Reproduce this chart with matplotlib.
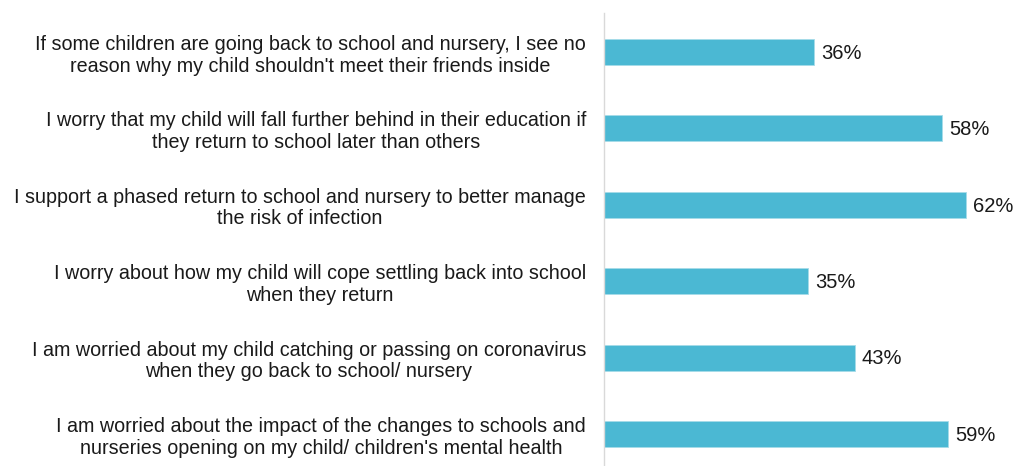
import matplotlib
matplotlib.use("Agg")
import matplotlib.pyplot as plt

plt.rcParams['font.family'] = ['Liberation Sans', 'DejaVu Sans']

# statements, top to bottom
statements = [
    "If some children are going back to school and nursery, I see no\nreason why my child shouldn't meet their friends inside",
    "I worry that my child will fall further behind in their education if\nthey return to school later than others",
    "I support a phased return to school and nursery to better manage\nthe risk of infection",
    "I worry about how my child will cope settling back into school\nwhen they return",
    "I am worried about my child catching or passing on coronavirus\nwhen they go back to school/ nursery",
    "I am worried about the impact of the changes to schools and\nnurseries opening on my child/ children's mental health",
]
values = [36, 58, 62, 35, 43, 59]

bar_color = '#4BB8D3'
text_color = '#1a1a1a'

fig = plt.figure(figsize=(10.14, 4.66), dpi=100)
ax = fig.add_axes([604 / 1014, 0, 410 / 1014, 1 - 13 / 466])

ypos = list(range(len(values)))
ax.barh(ypos, values, height=0.34, color=bar_color, edgecolor='#a6dbe9', linewidth=0.6)

for y, v in zip(ypos, values):
    ax.annotate(f"{v}%", (v, y), xytext=(5, -1), textcoords='offset points',
                va='center', ha='left', fontsize=14.5, color=text_color)

ax.set_xlim(0, 70.3)
ax.set_ylim(5.42, -0.51)
ax.set_yticks(ypos)
ax.set_yticklabels(statements, fontsize=14.25, color=text_color, ha='right',
                   multialignment='center', linespacing=1.18)
ax.tick_params(axis='y', length=0, pad=13)
ax.set_xticks([])

for s in ['top', 'right', 'bottom']:
    ax.spines[s].set_visible(False)
ax.spines['left'].set_color('#d9d9d9')
ax.spines['left'].set_linewidth(1)

fig.savefig('out.png', dpi=100)
